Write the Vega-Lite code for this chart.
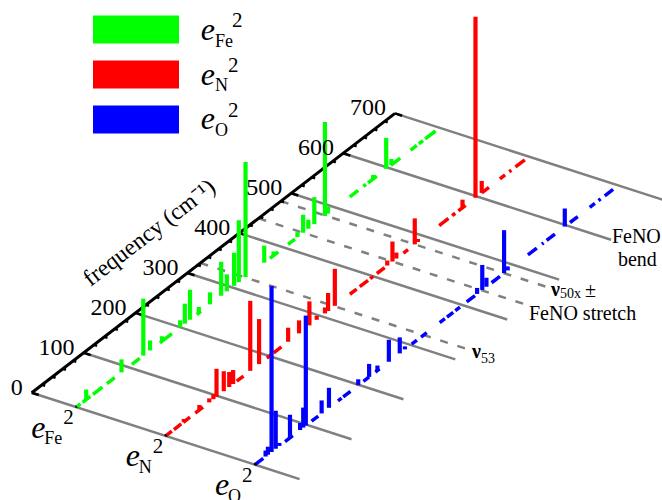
{
"$schema":"https://vega.github.io/schema/vega-lite/v6.json",
"width":662,"height":500,"padding":0,
"autosize":{"type":"none"},
"config":{"view":{"stroke":null},"text":{"font":"Liberation Serif","color":"#000000"}},
"datasets":{
"sticks":[
{"series":"Fe","frequency":19,"intensity":10},{"series":"Fe","frequency":87,"intensity":13},{"series":"Fe","frequency":129,"intensity":57},{"series":"Fe","frequency":142,"intensity":10},{"series":"Fe","frequency":165,"intensity":5},{"series":"Fe","frequency":200,"intensity":7},{"series":"Fe","frequency":209,"intensity":20},{"series":"Fe","frequency":219,"intensity":30},{"series":"Fe","frequency":236,"intensity":6},{"series":"Fe","frequency":257.5,"intensity":12},{"series":"Fe","frequency":279,"intensity":34},{"series":"Fe","frequency":290,"intensity":17},{"series":"Fe","frequency":304,"intensity":33},{"series":"Fe","frequency":313,"intensity":62},{"series":"Fe","frequency":326,"intensity":115},{"series":"Fe","frequency":362,"intensity":17},{"series":"Fe","frequency":380,"intensity":4},{"series":"Fe","frequency":426,"intensity":5},{"series":"Fe","frequency":437,"intensity":18},{"series":"Fe","frequency":447,"intensity":9},{"series":"Fe","frequency":458.5,"intensity":27},{"series":"Fe","frequency":479,"intensity":94},{"series":"Fe","frequency":485,"intensity":7},{"series":"Fe","frequency":572,"intensity":4},{"series":"Fe","frequency":597,"intensity":31},{"series":"Fe","frequency":607,"intensity":6},
{"series":"N","frequency":35,"intensity":3},{"series":"N","frequency":65,"intensity":5},{"series":"N","frequency":84,"intensity":4},{"series":"N","frequency":92,"intensity":5},{"series":"N","frequency":98,"intensity":28},{"series":"N","frequency":112,"intensity":20},{"series":"N","frequency":122.5,"intensity":15},{"series":"N","frequency":130,"intensity":14},{"series":"N","frequency":163,"intensity":70},{"series":"N","frequency":180,"intensity":45},{"series":"N","frequency":236,"intensity":14},{"series":"N","frequency":257,"intensity":13},{"series":"N","frequency":277,"intensity":24},{"series":"N","frequency":291,"intensity":4},{"series":"N","frequency":307,"intensity":6},{"series":"N","frequency":313,"intensity":18},{"series":"N","frequency":326,"intensity":37},{"series":"N","frequency":427,"intensity":5},{"series":"N","frequency":437,"intensity":20},{"series":"N","frequency":444.5,"intensity":6},{"series":"N","frequency":480,"intensity":26},{"series":"N","frequency":486,"intensity":3},{"series":"N","frequency":572,"intensity":8},{"series":"N","frequency":597,"intensity":181},{"series":"N","frequency":609,"intensity":12},
{"series":"O","frequency":20.5,"intensity":6},{"series":"O","frequency":25,"intensity":8},{"series":"O","frequency":32,"intensity":166},{"series":"O","frequency":40,"intensity":38},{"series":"O","frequency":47,"intensity":3},{"series":"O","frequency":67.5,"intensity":23},{"series":"O","frequency":87,"intensity":7},{"series":"O","frequency":93,"intensity":20},{"series":"O","frequency":98,"intensity":110},{"series":"O","frequency":128.5,"intensity":13},{"series":"O","frequency":142.6,"intensity":20},{"series":"O","frequency":199,"intensity":6},{"series":"O","frequency":220,"intensity":13},{"series":"O","frequency":236,"intensity":5},{"series":"O","frequency":258,"intensity":22},{"series":"O","frequency":279,"intensity":16},{"series":"O","frequency":289,"intensity":3},{"series":"O","frequency":428,"intensity":6},{"series":"O","frequency":438,"intensity":25},{"series":"O","frequency":446,"intensity":9},{"series":"O","frequency":480,"intensity":43},{"series":"O","frequency":487,"intensity":4},{"series":"O","frequency":597,"intensity":18}
],
"runs":[
{"series":"Fe","from":1,"to":8},{"series":"Fe","from":12,"to":27},{"series":"Fe","from":32,"to":50},{"series":"Fe","from":59,"to":74},{"series":"Fe","from":107,"to":122},{"series":"Fe","from":161,"to":184},{"series":"Fe","from":232,"to":240},{"series":"Fe","from":373,"to":389},{"series":"Fe","from":408,"to":421},{"series":"Fe","from":527,"to":543},{"series":"Fe","from":553,"to":558},{"series":"Fe","from":562,"to":579},{"series":"Fe","from":606,"to":624},{"series":"Fe","from":644,"to":656},{"series":"Fe","from":660,"to":668},{"series":"Fe","from":672,"to":692},
{"series":"N","from":2,"to":12},{"series":"N","from":16,"to":30},{"series":"N","from":34,"to":47},{"series":"N","from":57,"to":72},{"series":"N","from":137,"to":150},{"series":"N","from":195,"to":203},{"series":"N","from":208,"to":223},{"series":"N","from":355,"to":368},{"series":"N","from":374,"to":390},{"series":"N","from":394,"to":400},{"series":"N","from":407,"to":422},{"series":"N","from":458,"to":467},{"series":"N","from":527,"to":545},{"series":"N","from":552,"to":558},{"series":"N","from":564,"to":578},{"series":"N","from":609,"to":623},{"series":"N","from":644,"to":654},{"series":"N","from":662,"to":666},{"series":"N","from":674,"to":692},
{"series":"O","from":2,"to":16},{"series":"O","from":58,"to":73},{"series":"O","from":109,"to":122},{"series":"O","from":160,"to":167},{"series":"O","from":170,"to":184},{"series":"O","from":209,"to":220},{"series":"O","from":232,"to":240},{"series":"O","from":302,"to":312},{"series":"O","from":320,"to":331},{"series":"O","from":356,"to":366},{"series":"O","from":370,"to":382},{"series":"O","from":386,"to":395},{"series":"O","from":408,"to":424},{"series":"O","from":456,"to":472},{"series":"O","from":526,"to":543},{"series":"O","from":553,"to":556},{"series":"O","from":562,"to":578},{"series":"O","from":607,"to":622},{"series":"O","from":645,"to":655},{"series":"O","from":662,"to":666},{"series":"O","from":674,"to":690}
],
"gridSolid":[{"frequency":0},{"frequency":100},{"frequency":200},{"frequency":300},{"frequency":400},{"frequency":500},{"frequency":600},{"frequency":700}],
"gridDashed":[{"frequency":325},{"frequency":437},{"frequency":480}],
"ticks":[{"frequency":0},{"frequency":20},{"frequency":40},{"frequency":60},{"frequency":80},{"frequency":100},{"frequency":120},{"frequency":140},{"frequency":160},{"frequency":180},{"frequency":200},{"frequency":220},{"frequency":240},{"frequency":260},{"frequency":280},{"frequency":300},{"frequency":320},{"frequency":340},{"frequency":360},{"frequency":380},{"frequency":400},{"frequency":420},{"frequency":440},{"frequency":460},{"frequency":480},{"frequency":500},{"frequency":520},{"frequency":540},{"frequency":560},{"frequency":580},{"frequency":600},{"frequency":620},{"frequency":640},{"frequency":660},{"frequency":680},{"frequency":700}],
"seriesNames":[{"series":"Fe"},{"series":"N"},{"series":"O"}],
"serifNotes":[{"label":"FeNO stretch","frequency":411.5,"across":3.177},{"label":"FeNO","frequency":595.2,"across":3.038},{"label":"bend","frequency":557.5,"across":3.325},{"label":"±","frequency":484.5,"across":3.38}],
"boldNotes":[{"label":"ν","frequency":312,"across":3.118},{"label":"ν","frequency":466.4,"across":3.104}],
"subNotes":[{"label":"53","frequency":308.8,"across":3.237},{"label":"50x","frequency":468,"across":3.196}]
},
"encoding":{
"x":{"field":"px","type":"quantitative","scale":{"domain":[0,662],"nice":false,"zero":false},"axis":null},
"y":{"field":"py","type":"quantitative","scale":{"domain":[500,0],"nice":false,"zero":false},"axis":null}
},
"layer":[
{"data":{"name":"gridSolid"},
"transform":[{"calculate":"31.7+0.519*datum.frequency","as":"px"},{"calculate":"392.7-0.399*datum.frequency","as":"py"},{"calculate":"datum.px+267.9","as":"px2"},{"calculate":"datum.py+86.4","as":"py2"}],
"mark":{"type":"rule","color":"#808080","strokeWidth":2.5},
"encoding":{"x2":{"field":"px2"},"y2":{"field":"py2"}}},
{"data":{"name":"gridDashed"},
"transform":[{"calculate":"31.7+0.519*datum.frequency","as":"px"},{"calculate":"392.7-0.399*datum.frequency","as":"py"},{"calculate":"datum.px+267.9","as":"px2"},{"calculate":"datum.py+86.4","as":"py2"}],
"mark":{"type":"rule","color":"#808080","strokeWidth":2.5,"strokeDash":[8,10]},
"encoding":{"x2":{"field":"px2"},"y2":{"field":"py2"}}},
{"data":{"name":"ticks"},
"transform":[{"calculate":"31.7+0.519*datum.frequency","as":"px"},{"calculate":"392.7-0.399*datum.frequency","as":"py"},{"calculate":"datum.frequency%100==0?0.08:0.035","as":"len"},{"calculate":"datum.px+89.3*datum.len","as":"px2"},{"calculate":"datum.py+28.8*datum.len","as":"py2"}],
"mark":{"type":"rule","color":"#000000","strokeWidth":2.5},
"encoding":{"x2":{"field":"px2"},"y2":{"field":"py2"}}},
{"data":{"values":[{"from":0,"to":700}]},
"transform":[{"calculate":"31.7+0.519*datum.from","as":"px"},{"calculate":"392.7-0.399*datum.from","as":"py"},{"calculate":"31.7+0.519*datum.to","as":"px2"},{"calculate":"392.7-0.399*datum.to","as":"py2"}],
"mark":{"type":"rule","color":"#000000","strokeWidth":3},
"encoding":{"x2":{"field":"px2"},"y2":{"field":"py2"}}},
{"data":{"name":"seriesNames"},
"transform":[{"calculate":"indexof(['Fe','N','O'],datum.series)+0.5","as":"u"},{"calculate":"31.7+89.3*datum.u-1","as":"px"},{"calculate":"392.7+28.8*datum.u-1","as":"py"},{"calculate":"datum.px+3","as":"px2"},{"calculate":"datum.py+1","as":"py2"}],
"mark":{"type":"rule","color":"#000000","strokeWidth":2.5},
"encoding":{"x2":{"field":"px2"},"y2":{"field":"py2"}}},
{"data":{"name":"runs"},
"transform":[{"calculate":"indexof(['Fe','N','O'],datum.series)+0.5","as":"u"},{"calculate":"31.7+89.3*datum.u+0.519*datum.from","as":"px"},{"calculate":"392.7+28.8*datum.u-0.399*datum.from","as":"py"},{"calculate":"31.7+89.3*datum.u+0.519*datum.to","as":"px2"},{"calculate":"392.7+28.8*datum.u-0.399*datum.to","as":"py2"}],
"mark":{"type":"rule","strokeWidth":3.5,"strokeCap":"butt"},
"encoding":{"x2":{"field":"px2"},"y2":{"field":"py2"},"color":{"field":"series","type":"nominal","scale":{"domain":["Fe","N","O"],"range":["#00ff00","#ff0000","#0000ff"]},"legend":{"orient":"none","legendX":79,"legendY":7,"title":null,"symbolType":"stroke","symbolSize":7396,"symbolStrokeWidth":28,"symbolOpacity":1,"clipHeight":45,"labelExpr":"''","rowPadding":0}}}},
{"data":{"name":"sticks"},
"transform":[{"calculate":"indexof(['Fe','N','O'],datum.series)+0.5","as":"u"},{"calculate":"31.7+89.3*datum.u+0.519*datum.frequency","as":"px"},{"calculate":"392.7+28.8*datum.u-0.399*datum.frequency","as":"py"},{"calculate":"datum.py-datum.intensity","as":"py2"}],
"mark":{"type":"rule","strokeWidth":4.2},
"encoding":{"y2":{"field":"py2"},"color":{"field":"series","type":"nominal"}}},
{"data":{"values":[{"frequency":0},{"frequency":100},{"frequency":200},{"frequency":300},{"frequency":400},{"frequency":500},{"frequency":600},{"frequency":700}]},
"transform":[{"calculate":"31.7+0.519*datum.frequency","as":"px"},{"calculate":"392.7-0.399*datum.frequency","as":"py"}],
"mark":{"type":"text","fontSize":24,"align":"right","baseline":"alphabetic","dx":-9,"dy":2},
"encoding":{"text":{"field":"frequency","type":"quantitative"}}},
{"data":{"values":[{"label":"frequency (cm⁻¹)","frequency":349,"across":-0.71}]},
"transform":[{"calculate":"31.7+0.519*datum.frequency+89.3*datum.across","as":"px"},{"calculate":"392.7-0.399*datum.frequency+28.8*datum.across","as":"py"}],
"mark":{"type":"text","fontSize":23.5,"angle":-37.5,"align":"center","baseline":"middle"},
"encoding":{"text":{"field":"label"}}},
{"data":{"name":"serifNotes"},
"transform":[{"calculate":"31.7+0.519*datum.frequency+89.3*datum.across","as":"px"},{"calculate":"392.7-0.399*datum.frequency+28.8*datum.across","as":"py"}],
"mark":{"type":"text","fontSize":20,"align":"left","baseline":"alphabetic"},
"encoding":{"text":{"field":"label"}}},
{"data":{"name":"boldNotes"},
"transform":[{"calculate":"31.7+0.519*datum.frequency+89.3*datum.across","as":"px"},{"calculate":"392.7-0.399*datum.frequency+28.8*datum.across","as":"py"}],
"mark":{"type":"text","fontSize":20,"fontWeight":"bold","align":"left","baseline":"alphabetic"},
"encoding":{"text":{"field":"label"}}},
{"data":{"name":"subNotes"},
"transform":[{"calculate":"31.7+0.519*datum.frequency+89.3*datum.across","as":"px"},{"calculate":"392.7-0.399*datum.frequency+28.8*datum.across","as":"py"}],
"mark":{"type":"text","fontSize":14,"align":"left","baseline":"alphabetic"},
"encoding":{"text":{"field":"label"}}},
{"data":{"name":"seriesNames"},
"transform":[{"calculate":"indexof(['Fe','N','O'],datum.series)+0.5","as":"u"},{"calculate":"31.7+89.3*datum.u+(datum.series=='Fe'?-45:-40)","as":"px"},{"calculate":"392.7+28.8*datum.u+30.5","as":"py"},{"calculate":"'e'","as":"glyph"}],
"mark":{"type":"text","fontSize":32,"fontStyle":"italic","align":"left","baseline":"alphabetic"},
"encoding":{"text":{"field":"glyph"}}},
{"data":{"name":"seriesNames"},
"transform":[{"calculate":"indexof(['Fe','N','O'],datum.series)+0.5","as":"u"},{"calculate":"31.7+89.3*datum.u-14","as":"px"},{"calculate":"392.7+28.8*datum.u+37","as":"py"}],
"mark":{"type":"text","fontSize":18,"align":"right","baseline":"alphabetic"},
"encoding":{"text":{"field":"series"}}},
{"data":{"name":"seriesNames"},
"transform":[{"calculate":"indexof(['Fe','N','O'],datum.series)+0.5","as":"u"},{"calculate":"31.7+89.3*datum.u-13","as":"px"},{"calculate":"392.7+28.8*datum.u+17","as":"py"},{"calculate":"'2'","as":"glyph"}],
"mark":{"type":"text","fontSize":21,"align":"left","baseline":"alphabetic"},
"encoding":{"text":{"field":"glyph"}}},
{"data":{"name":"seriesNames"},
"transform":[{"calculate":"indexof(['Fe','N','O'],datum.series)","as":"i"},{"calculate":"200.7","as":"px"},{"calculate":"40+44.5*datum.i","as":"py"},{"calculate":"'e'","as":"glyph"}],
"mark":{"type":"text","fontSize":32,"fontStyle":"italic","align":"left","baseline":"alphabetic"},
"encoding":{"text":{"field":"glyph"}}},
{"data":{"name":"seriesNames"},
"transform":[{"calculate":"indexof(['Fe','N','O'],datum.series)","as":"i"},{"calculate":"215","as":"px"},{"calculate":"46.7+44.5*datum.i","as":"py"}],
"mark":{"type":"text","fontSize":18,"align":"left","baseline":"alphabetic"},
"encoding":{"text":{"field":"series"}}},
{"data":{"name":"seriesNames"},
"transform":[{"calculate":"indexof(['Fe','N','O'],datum.series)","as":"i"},{"calculate":"datum.series=='Fe'?232:228","as":"px"},{"calculate":"26.7+45*datum.i","as":"py"},{"calculate":"'2'","as":"glyph"}],
"mark":{"type":"text","fontSize":21,"align":"left","baseline":"alphabetic"},
"encoding":{"text":{"field":"glyph"}}}
]
}
